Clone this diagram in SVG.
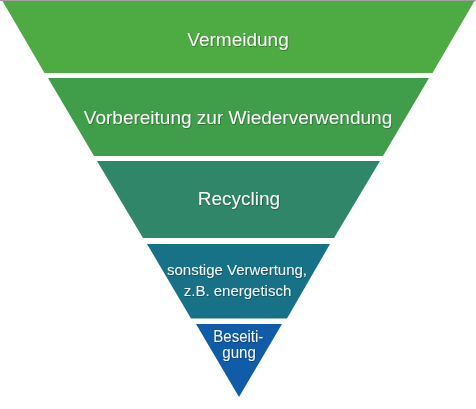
<svg xmlns="http://www.w3.org/2000/svg" width="476" height="409" viewBox="0 0 476 409">
  <defs>
    <filter id="ts" x="-10%" y="-30%" width="120%" height="160%">
      <feDropShadow dx="0.6" dy="0.6" stdDeviation="0.6" flood-color="#000" flood-opacity="0.45"/>
    </filter>
  </defs>
  <style>
    .lbl { font-family: "Liberation Sans", Arial, sans-serif; fill: #f6f6f6; text-anchor: middle; filter: url(#ts); }
    .big { font-size: 19px; }
    .mid { font-size: 15px; }
    .sml { font-size: 16px; }
  </style>
  <rect x="0" y="0" width="476" height="409" fill="#ffffff"/>
  <rect x="0" y="0" width="476" height="1.2" fill="#a0a0a0"/>
  <g id="vermeidung">
    <polygon points="2.5,1 474.5,1 432.5,73 44.5,73" fill="#4eaa42"/>
    <text class="lbl big" x="238" y="46">Vermeidung</text>
  </g>
  <g id="vorbereitung">
    <polygon points="48,78 429,78 383,156 94,156" fill="#409e4a"/>
    <text class="lbl big" x="238" y="124">Vorbereitung zur Wiederverwendung</text>
  </g>
  <g id="recycling">
    <polygon points="97,161 380,161 334,238 143,238" fill="#308668"/>
    <text class="lbl big" x="239" y="205">Recycling</text>
  </g>
  <g id="verwertung">
    <polygon points="147,244 330,244 287,318.5 191,318.5" fill="#177287"/>
    <text class="lbl mid" x="237" y="275">sonstige Verwertung,</text>
    <text class="lbl mid" x="237.5" y="295.5">z.B. energetisch</text>
  </g>
  <g id="beseitigung">
    <polygon points="196,324 282,324 239,397" fill="#105ca8"/>
    <text class="lbl sml" x="238.3" y="342" textLength="50" lengthAdjust="spacingAndGlyphs">Beseiti-</text>
    <text class="lbl sml" x="239" y="358" textLength="33.5" lengthAdjust="spacingAndGlyphs">gung</text>
  </g>
  <g id="connectors"/>
</svg>
